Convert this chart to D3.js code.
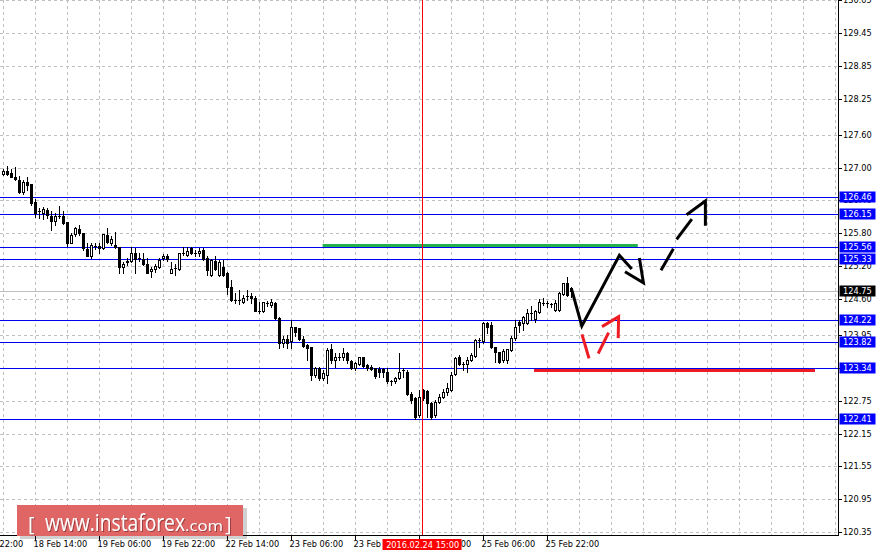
<!DOCTYPE html>
<html><head><meta charset="utf-8">
<script src="https://cdn.jsdelivr.net/npm/d3@7"></script>
<style>html,body{margin:0;padding:0;background:#fff;}svg{display:block;}</style>
</head><body>
<svg id="c" width="878" height="556"></svg>
<script>
// ---- data (H1 bars, index 0 = 18 Feb 06:00) ----
const opens  = [126.88,126.94,126.91,126.83,126.77,126.55,126.74,126.70,126.38,126.20,126.18,126.23,126.12,126.03,126.12,126.12,126.00,125.63,125.79,125.88,125.81,125.52,125.38,125.57,125.57,125.53,125.77,125.63,125.59,125.55,125.18,125.28,125.30,125.44,125.36,125.33,125.25,125.11,125.15,125.18,125.35,125.38,125.08,125.16,125.15,125.45,125.41,125.53,125.45,125.44,125.50,125.35,125.04,125.30,125.04,125.19,125.08,124.82,124.59,124.59,124.55,124.65,124.66,124.62,124.39,124.39,124.53,124.49,124.53,124.25,123.80,123.87,123.83,124.09,124.07,123.87,123.77,123.73,123.22,123.34,123.16,123.22,123.69,123.50,123.55,123.55,123.61,123.48,123.34,123.42,123.54,123.40,123.37,123.34,123.32,123.32,123.28,123.10,123.11,123.16,123.31,123.28,122.88,122.79,122.48,122.94,122.93,122.71,122.48,122.73,122.81,122.90,122.94,123.24,123.54,123.42,123.42,123.49,123.56,123.86,123.83,124.16,124.13,123.72,123.64,123.49,123.49,123.67,123.89,124.19,124.16,124.16,124.34,124.23,124.37,124.53,124.53,124.51,124.40,124.40,124.69,124.89,124.80];
const highs  = [126.97,127.02,126.97,127.01,126.85,126.77,126.82,126.70,126.42,126.26,126.29,126.27,126.20,126.17,126.30,126.20,126.01,125.80,125.92,125.95,125.81,125.62,125.62,125.63,125.62,125.79,125.89,125.75,125.83,125.55,125.28,125.35,125.55,125.53,125.44,125.44,125.35,125.19,125.25,125.35,125.42,125.42,125.28,125.25,125.45,125.56,125.55,125.56,125.50,125.53,125.53,125.38,125.33,125.38,125.31,125.31,125.10,124.95,124.71,124.76,124.68,124.77,124.71,124.65,124.55,124.55,124.57,124.60,124.54,124.27,123.93,123.95,124.22,124.10,124.08,123.92,123.78,123.73,123.37,123.37,123.30,123.71,123.78,123.61,123.61,123.71,123.64,123.49,123.46,123.55,123.55,123.42,123.40,123.34,123.37,123.35,123.34,123.13,123.19,123.61,123.34,123.31,122.91,122.82,122.94,122.96,122.94,122.73,122.76,122.88,122.96,123.07,123.28,123.55,123.58,123.46,123.54,123.61,123.87,123.89,124.19,124.19,124.19,123.73,123.64,123.69,123.69,123.92,124.22,124.22,124.29,124.43,124.48,124.40,124.60,124.62,124.57,124.53,124.59,124.74,124.90,125.01,124.83];
const lows   = [126.86,126.86,126.82,126.77,126.53,126.52,126.59,126.32,126.10,126.08,126.06,126.08,125.87,125.95,126.08,125.97,125.57,125.62,125.75,125.77,125.50,125.38,125.36,125.51,125.45,125.51,125.62,125.59,125.53,125.07,125.08,125.22,125.28,125.07,125.30,125.22,125.07,125.01,125.10,125.16,125.31,125.30,125.08,125.04,125.13,125.41,125.38,125.42,125.38,125.38,125.31,125.04,125.02,125.13,125.02,125.02,124.69,124.57,124.53,124.51,124.53,124.59,124.53,124.38,124.35,124.37,124.48,124.46,124.23,123.71,123.73,123.71,123.71,123.92,123.86,123.73,123.49,123.13,123.19,123.13,123.13,123.07,123.43,123.37,123.49,123.49,123.44,123.32,123.31,123.40,123.36,123.30,123.31,123.16,123.19,123.18,123.07,123.04,123.07,123.14,123.19,122.85,122.70,122.42,122.46,122.77,122.46,122.41,122.46,122.70,122.79,122.85,122.93,123.22,123.40,123.31,123.28,123.48,123.54,123.73,123.81,123.98,123.71,123.46,123.44,123.46,123.43,123.66,123.86,124.01,124.04,124.15,124.22,124.19,124.35,124.49,124.46,124.46,124.39,124.39,124.68,124.66,124.64];
const closes = [126.94,126.88,126.83,126.79,126.56,126.74,126.68,126.36,126.18,126.20,126.24,126.14,126.03,126.12,126.12,125.99,125.63,125.77,125.89,125.80,125.53,125.39,125.59,125.57,125.53,125.79,125.65,125.69,125.55,125.18,125.25,125.30,125.44,125.33,125.36,125.24,125.08,125.15,125.21,125.31,125.38,125.34,125.15,125.16,125.44,125.45,125.48,125.44,125.45,125.48,125.33,125.13,125.31,125.15,125.28,125.04,124.83,124.59,124.59,124.59,124.63,124.65,124.62,124.39,124.39,124.54,124.53,124.54,124.25,123.80,123.87,123.81,124.09,124.01,123.87,123.75,123.71,123.22,123.34,123.16,123.25,123.67,123.50,123.55,123.55,123.61,123.49,123.34,123.44,123.54,123.38,123.34,123.33,123.20,123.28,123.28,123.10,123.10,123.16,123.28,123.31,122.88,122.76,122.46,122.82,122.79,122.71,122.46,122.72,122.81,122.90,122.98,123.22,123.52,123.42,123.42,123.50,123.58,123.86,123.86,124.16,124.09,123.72,123.64,123.46,123.66,123.69,123.89,124.09,124.13,124.27,124.34,124.34,124.39,124.55,124.53,124.53,124.51,124.53,124.71,124.89,124.68,124.75];

const xTickIdx    = [-8, 8, 24, 40, 56, 72, 88, 104, 120, 136];
const xTickLabels = ["17 Feb 22:00","18 Feb 14:00","19 Feb 06:00","19 Feb 22:00","22 Feb 14:00","23 Feb 06:00","23 Feb 22:00","24 Feb 14:00","25 Feb 06:00","25 Feb 22:00"];
const yTicks      = [130.05,129.45,128.85,128.25,127.60,127.00,126.40,125.80,125.20,124.60,123.95,123.35,122.75,122.15,121.55,120.95,120.35];
const levels      = [126.46,126.15,125.56,125.33,124.22,123.82,123.34,122.41];
const bidPrice    = 124.75;
const cursorIdx   = 104.8;
const cursorLabel = "2016.02.24 15:00";
const greenLevel  = {from: 79.9, to: 158.7, price: 125.58};
const redLevel    = {from: 132.75, to: 203.0, price: 123.30};
const blackSolid  = [[142.2,124.77],[144.7,124.11],[154.1,125.40],[157.2,125.15]];
const blackHead   = [[155.5,125.10],[160.1,124.90],[159.1,125.35]];
const blackDash   = [[[164.5,125.13],[167.6,125.52]],[[168.4,125.69],[172.2,126.06]]];
const blackDashHead = [[170.9,126.14],[175.6,126.39],[175.6,125.94]];
const redDash     = [[[144.75,123.96],[146.5,123.52]],[[148.8,123.61],[151.4,123.99]]];
const redHead     = [[149.75,124.10],[153.9,124.28],[153.8,123.89]];

// ---- layout ----
const plotR = 838, plotB = 535;
const FONT = "DejaVu Sans, Verdana, sans-serif";
const FS = 8.2;
const svg = d3.select("#c");
const x = d3.scaleLinear().domain([0, 208]).range([3, 835]);
const y = d3.scaleLinear().domain([130.056, 120.30]).range([0, plotB]);
const cy = v => Math.round(y(v)) + 0.5;
const cxp = i => Math.round(x(i));

const defs = svg.append("defs");
const f = defs.append("filter").attr("id","ts").attr("x","-10%").attr("y","-20%").attr("width","130%").attr("height","150%");
f.append("feDropShadow").attr("dx",1).attr("dy",1).attr("stdDeviation",0.6).attr("flood-color","#6a2020").attr("flood-opacity",0.6);

svg.append("rect").attr("width",878).attr("height",556).attr("fill","#fff");

// grid
const g = svg.append("g");
g.selectAll(".hg").data(yTicks).join("line")
  .attr("x1",0).attr("x2",plotR).attr("y1",d=>cy(d)).attr("y2",d=>cy(d))
  .attr("stroke","#c0c0c0").attr("stroke-dasharray","3,3");
g.selectAll(".vg").data(d3.range(0, 209, 8)).join("line")
  .attr("x1",d=>cxp(d)+0.5).attr("x2",d=>cxp(d)+0.5).attr("y1",0).attr("y2",plotB)
  .attr("stroke","#c0c0c0").attr("stroke-dasharray","3,3");

// bid line
svg.append("line").attr("x1",0).attr("x2",plotR).attr("y1",cy(bidPrice)).attr("y2",cy(bidPrice))
  .attr("stroke","#c0c0c0");

// level lines
svg.selectAll(".lv").data(levels).join("line")
  .attr("x1",0).attr("x2",plotR).attr("y1",d=>cy(d)).attr("y2",d=>cy(d))
  .attr("stroke","#0000f0");

// green & red thick lines
svg.append("line").attr("x1",x(greenLevel.from)).attr("x2",x(greenLevel.to))
  .attr("y1",y(greenLevel.price)).attr("y2",y(greenLevel.price))
  .attr("stroke","#22b14c").attr("stroke-width",3);
svg.append("line").attr("x1",x(redLevel.from)).attr("x2",x(redLevel.to))
  .attr("y1",y(redLevel.price)).attr("y2",y(redLevel.price))
  .attr("stroke","#ed1c24").attr("stroke-width",3);

// candles
const data = opens.map((o,i)=>({i,o,h:highs[i],l:lows[i],c:closes[i]}));
const cg = svg.append("g");
cg.selectAll(".wick").data(data).join("line")
  .attr("x1",d=>cxp(d.i)+0.5).attr("x2",d=>cxp(d.i)+0.5)
  .attr("y1",d=>Math.round(y(d.h))).attr("y2",d=>Math.round(y(d.l))+1)
  .attr("stroke","#000");
data.forEach(d=>{
  const top = Math.round(y(Math.max(d.o,d.c))), bot = Math.round(y(Math.min(d.o,d.c)));
  const cx = cxp(d.i);
  if (bot - top < 1) {
    cg.append("line").attr("x1",cx-1).attr("x2",cx+2).attr("y1",top+0.5).attr("y2",top+0.5).attr("stroke","#000");
  } else if (d.c < d.o) {
    cg.append("rect").attr("x",cx-1).attr("y",top).attr("width",3).attr("height",bot-top+1).attr("fill","#000");
  } else {
    cg.append("rect").attr("x",cx-0.5).attr("y",top+0.5).attr("width",2).attr("height",bot-top)
      .attr("fill","#fff").attr("stroke","#000");
  }
});

// cursor line
svg.append("line").attr("x1",cxp(cursorIdx)+0.5).attr("x2",cxp(cursorIdx)+0.5).attr("y1",0).attr("y2",plotB)
  .attr("stroke","#ff0000");

// arrows
const lineGen = d3.line().x(d=>x(d[0])).y(d=>y(d[1]));
const ag = svg.append("g").attr("fill","none").attr("stroke-width",3).attr("stroke-linejoin","miter");
ag.append("path").attr("d",lineGen(blackSolid)).attr("stroke","#000");
ag.append("path").attr("d",lineGen(blackHead)).attr("stroke","#000");
blackDash.forEach(s=>ag.append("path").attr("d",lineGen(s)).attr("stroke","#000"));
ag.append("path").attr("d",lineGen(blackDashHead)).attr("stroke","#000");
redDash.forEach(s=>ag.append("path").attr("d",lineGen(s)).attr("stroke","#ed1c24"));
ag.append("path").attr("d",lineGen(redHead)).attr("stroke","#ed1c24");

// axes frame
svg.append("line").attr("x1",plotR+0.5).attr("x2",plotR+0.5).attr("y1",0).attr("y2",plotB+1).attr("stroke","#000");
svg.append("line").attr("x1",0).attr("x2",plotR+1).attr("y1",plotB+0.5).attr("y2",plotB+0.5).attr("stroke","#000");

// right ticks + labels
svg.selectAll(".yt").data(yTicks).join("line")
  .attr("x1",plotR+1).attr("x2",plotR+4).attr("y1",d=>cy(d)).attr("y2",d=>cy(d)).attr("stroke","#000");
svg.selectAll(".yl").data(yTicks).join("text")
  .attr("x",843).attr("y",d=>y(d)+3).attr("font-family",FONT).attr("font-size",FS)
  .attr("fill","#000").text(d=>d.toFixed(2));

// bottom ticks + labels
svg.selectAll(".xt").data(xTickIdx).join("line")
  .attr("x1",d=>cxp(d)+0.5).attr("x2",d=>cxp(d)+0.5).attr("y1",plotB+1).attr("y2",plotB+5).attr("stroke","#000");
svg.selectAll(".xl").data(xTickIdx).join("text")
  .attr("x",d=>x(d)-1.5).attr("y",547).attr("font-family",FONT).attr("font-size",FS)
  .attr("fill","#000").text((d,i)=>xTickLabels[i]);

// level boxes
const boxes = levels.map(v=>({v,fill:"#0000ff"})).concat([{v:bidPrice,fill:"#000"}]);
boxes.forEach(b=>{
  const yy = y(b.v);
  svg.append("rect").attr("x",839.5).attr("y",Math.round(yy)-5.5).attr("width",36).attr("height",11).attr("fill",b.fill);
  svg.append("text").attr("x",843).attr("y",yy+3).attr("font-family",FONT).attr("font-size",FS)
    .attr("fill","#fff").text(b.v.toFixed(2));
});

// cursor time box
const cx0 = x(cursorIdx);
svg.append("rect").attr("x",Math.round(cx0)-39.5).attr("y",539).attr("width",79).attr("height",11).attr("fill","#ff0000");
svg.append("text").attr("x",cx0+0.5).attr("y",547.5).attr("text-anchor","middle").attr("font-family",FONT)
  .attr("font-size",FS).attr("fill","#fff").text(cursorLabel);

// logo
const lg = svg.append("g");
lg.append("rect").attr("x",20).attr("y",508).attr("width",227).attr("height",31).attr("fill","#000").attr("opacity",0.18);
lg.append("rect").attr("x",17).attr("y",505).attr("width",226).attr("height",31).attr("fill","#e06666");
const LF = "Open Sans, DejaVu Sans, sans-serif";
const lt = lg.append("text").attr("y",531).attr("font-family",LF).attr("fill","#fff").attr("filter","url(#ts)");
lt.append("tspan").attr("x",28).attr("font-size",20).text("[");
lt.append("tspan").attr("x",45).attr("font-size",23).attr("textLength",140).attr("lengthAdjust","spacingAndGlyphs").text("www.instaforex");
lt.append("tspan").attr("x",185).attr("font-size",15).attr("textLength",38).attr("lengthAdjust","spacingAndGlyphs").text(".com");
lt.append("tspan").attr("x",225).attr("font-size",20).text("]");
</script>
</body></html>
